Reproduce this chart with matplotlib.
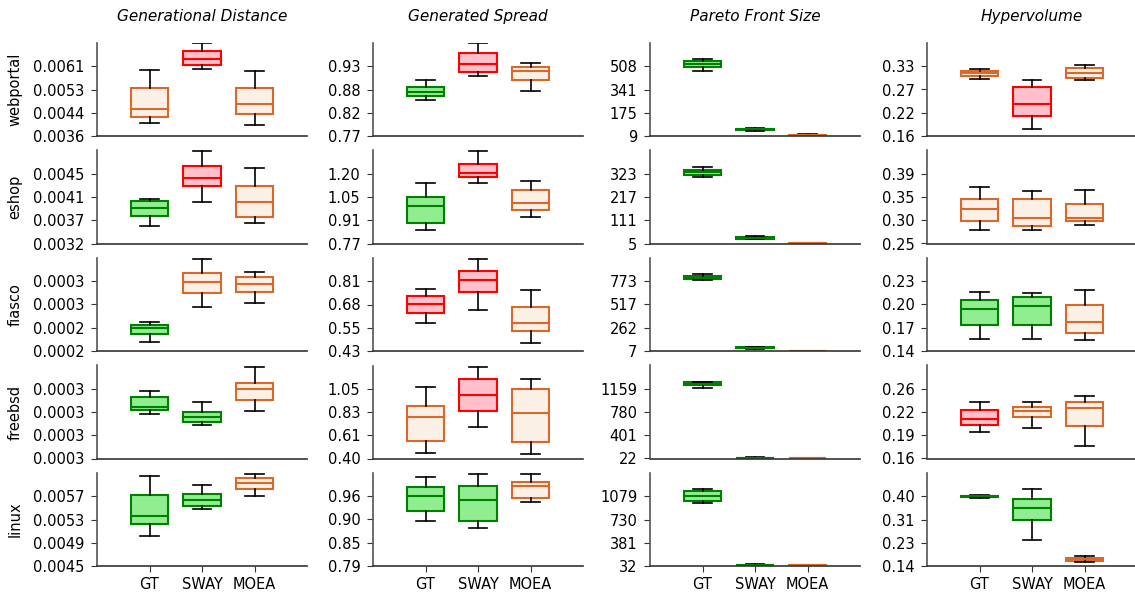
import matplotlib
matplotlib.use("Agg")
import matplotlib.pyplot as plt

projects = ["webportal", "eshop", "fiasco", "freebsd", "linux"]
metrics = ["Generational Distance", "Generated Spread", "Pareto Front Size", "Hypervolume"]
methods = ["GT", "SWAY", "MOEA"]

# each box: [whislo, q1, median, q3, whishi]; rows = projects, inner = GT, SWAY, MOEA
gd_stats = [
    [[0.00408, 0.00430, 0.00458, 0.00535, 0.00598], [0.00602, 0.00615, 0.00639, 0.00666, 0.00694], [0.00402, 0.00439, 0.00477, 0.00535, 0.00594]],
    [[0.00357, 0.00374, 0.00389, 0.00402, 0.00407], [0.00400, 0.00431, 0.00446, 0.00468, 0.00495], [0.00362, 0.00373, 0.00401, 0.00431, 0.00464]],
    [[0.0002035, 0.0002156, 0.0002246, 0.0002291, 0.0002336], [0.0002558, 0.0002768, 0.0002938, 0.000308, 0.000329], [0.0002618, 0.0002783, 0.0002908, 0.0003009, 0.0003089]],
    [[0.0003087, 0.0003121, 0.0003147, 0.0003227, 0.0003279], [0.0002984, 0.000301, 0.0003053, 0.0003098, 0.0003182], [0.000311, 0.0003199, 0.00033, 0.0003348, 0.0003489]],
    [[0.00501, 0.00522, 0.00536, 0.00572, 0.00604], [0.00548, 0.00553, 0.00564, 0.00574, 0.00589], [0.00570, 0.00582, 0.00593, 0.00601, 0.00609]],
]
gs_stats = [
    [[0.853, 0.864, 0.872, 0.884, 0.900], [0.910, 0.919, 0.938, 0.962, 0.985], [0.875, 0.899, 0.922, 0.931, 0.939]],
    [[0.851, 0.896, 0.996, 1.057, 1.141], [1.137, 1.175, 1.198, 1.257, 1.334], [0.929, 0.974, 1.018, 1.094, 1.151]],
    [[0.582, 0.636, 0.683, 0.726, 0.762], [0.649, 0.746, 0.813, 0.860, 0.929], [0.474, 0.536, 0.578, 0.666, 0.757]],
    [[0.446, 0.558, 0.783, 0.886, 1.071], [0.696, 0.840, 0.996, 1.137, 1.256], [0.434, 0.555, 0.827, 1.043, 1.140]],
    [[0.901, 0.925, 0.961, 0.983, 1.007], [0.882, 0.901, 0.953, 0.986, 1.016], [0.947, 0.957, 0.986, 0.995, 1.016]],
]
pfs_stats = [
    [[474, 502, 524, 547, 562], [46, 50, 56, 62, 68], [9, 11, 13, 15, 20]],
    [[306, 316, 329, 341, 356], [24, 27, 31, 35, 38], [5, 5, 6, 7, 8]],
    [[783, 797, 813, 827, 852], [34, 38, 42, 46, 50], [7, 8, 9, 10, 12]],
    [[1179, 1212, 1239, 1261, 1272], [25, 29, 33, 38, 45], [22, 25, 27, 30, 35]],
    [[973, 1012, 1083, 1158, 1188], [36, 40, 44, 48, 55], [34, 38, 41, 45, 50]],
]
hv_stats = [
    [[0.300, 0.3065, 0.3138, 0.3193, 0.3242], [0.180, 0.2095, 0.240, 0.2793, 0.297], [0.297, 0.3024, 0.3138, 0.3265, 0.333]],
    [[0.280, 0.2995, 0.3232, 0.3417, 0.3661], [0.2804, 0.2883, 0.3054, 0.3417, 0.3582], [0.2903, 0.2995, 0.3048, 0.3318, 0.3608]],
    [[0.1556, 0.1747, 0.196, 0.2085, 0.2187], [0.156, 0.1743, 0.200, 0.2116, 0.2179], [0.1552, 0.1636, 0.1783, 0.2013, 0.2213]],
    [[0.1963, 0.2058, 0.2138, 0.2271, 0.2379], [0.2016, 0.2166, 0.2257, 0.2318, 0.2379], [0.1764, 0.2048, 0.2294, 0.2375, 0.2464]],
    [[0.3924, 0.3985, 0.4005, 0.4025, 0.4057], [0.2382, 0.3122, 0.3565, 0.3887, 0.4257], [0.1568, 0.1605, 0.1668, 0.1716, 0.1779]],
]

# box colour class: g = best, r = worst, o = other
gd_colors = [["o", "r", "o"], ["g", "r", "o"], ["g", "o", "o"], ["g", "g", "o"], ["g", "g", "o"]]
gs_colors = [["g", "r", "o"], ["g", "r", "o"], ["r", "r", "o"], ["o", "r", "o"], ["g", "g", "o"]]
pfs_colors = [["g", "g", "o"], ["g", "g", "o"], ["g", "g", "o"], ["g", "g", "o"], ["g", "g", "o"]]
hv_colors = [["o", "r", "o"], ["o", "o", "o"], ["g", "g", "o"], ["r", "o", "o"], ["g", "g", "o"]]

# y tick base and step per panel (ticks: base + k*step, k = 0..3)
gd_ticks = [(0.00361, 0.000835), (0.00324, 0.00043), (0.00019, 0.000035), (0.00027, 0.00002), (0.0045, 0.0004)]
gs_ticks = [(0.77, 0.054), (0.77, 0.142), (0.428, 0.126), (0.396, 0.218), (0.79, 0.057)]
pfs_ticks = [(9, 166.2), (5, 106), (7, 255.2), (22, 379), (32, 349)]
hv_ticks = [(0.162, 0.056), (0.254, 0.046), (0.14, 0.031), (0.158, 0.033), (0.142, 0.086)]

all_stats = [gd_stats, gs_stats, pfs_stats, hv_stats]
all_colors = [gd_colors, gs_colors, pfs_colors, hv_colors]
all_ticks = [gd_ticks, gs_ticks, pfs_ticks, hv_ticks]
fmts = ["{:.4f}", "{:.2f}", "{:.0f}", "{:.2f}"]

palette = {
    "g": ("#90ee90", "#008000"),
    "r": ("#ffc0cb", "#ff0000"),
    "o": ("#faf0e6", "#d9682a"),
}

W, H = 1135, 592
fig = plt.figure(figsize=(W / 100, H / 100), dpi=100)
plt.rcParams["font.family"] = "DejaVu Sans"

col_left = [97, 373, 650, 927]
ax_w = 210
row_top = [43, 150.5, 258, 365.5, 473]
ax_h = 93

for c in range(4):
    for r in range(5):
        ax = fig.add_axes([col_left[c] / W, 1 - (row_top[r] + ax_h) / H, ax_w / W, ax_h / H])
        stats = []
        for k, m in enumerate(methods):
            lo, q1, med, q3, hi = all_stats[c][r][k]
            stats.append(dict(whislo=lo, q1=q1, med=med, q3=q3, whishi=hi, label=m, fliers=[]))
        bp = ax.bxp(stats, positions=[1, 2, 3], widths=0.72, patch_artist=True,
                    showfliers=False,
                    whiskerprops=dict(color="black", linewidth=1.2),
                    capprops=dict(color="black", linewidth=1.2))
        for k in range(3):
            face, edge = palette[all_colors[c][r][k]]
            bp["boxes"][k].set_facecolor(face)
            bp["boxes"][k].set_edgecolor(edge)
            bp["boxes"][k].set_linewidth(1.5)
            bp["medians"][k].set_color(edge)
            bp["medians"][k].set_linewidth(1.5)
        base, step = all_ticks[c][r]
        ticks = [base + i * step for i in range(4)]
        ax.set_ylim(base, base + 4 * step)
        ax.set_yticks(ticks)
        ax.set_yticklabels([fmts[c].format(t) for t in ticks])
        ax.set_xlim(0, 4)
        for s in ["top", "right"]:
            ax.spines[s].set_visible(False)
        ax.spines["left"].set_color("#555555")
        ax.spines["bottom"].set_color("#333333")
        ax.spines["left"].set_linewidth(1.2)
        ax.spines["bottom"].set_linewidth(1.2)
        ax.tick_params(axis="y", labelsize=10.5, length=4.5, pad=4.5, color="#333333")
        if r == 4:
            ax.set_xticks([1, 2, 3])
            ax.set_xticklabels(methods)
            ax.tick_params(axis="x", labelsize=10.5, length=4.5, color="#333333")
        else:
            ax.set_xticks([])
        if r == 0:
            ax.set_title(metrics[c], fontsize=11, style="italic", pad=16)
        if c == 0:
            fig.text(15 / W, 1 - (row_top[r] + ax_h / 2) / H, projects[r],
                     rotation=90, ha="center", va="center", fontsize=10.5)

fig.savefig("out.png", dpi=100)
